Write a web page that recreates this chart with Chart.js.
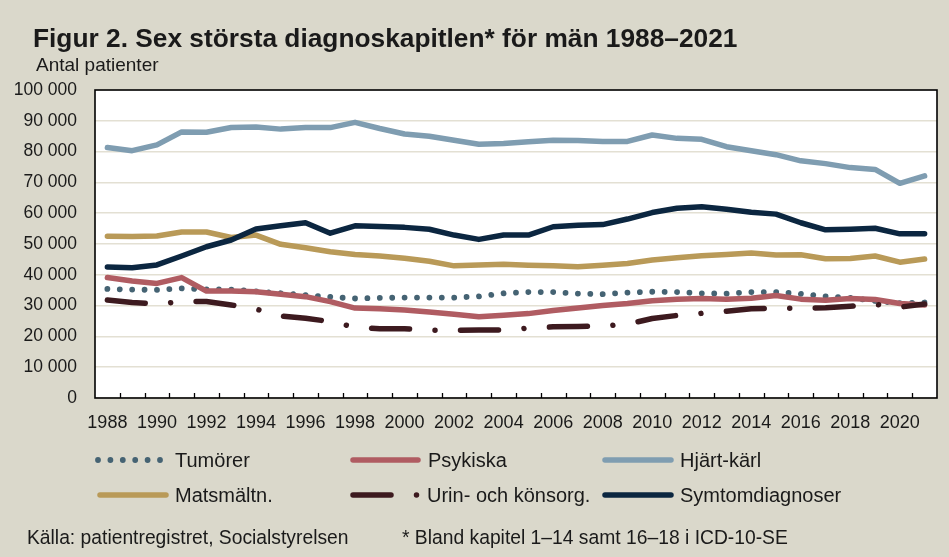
<!DOCTYPE html>
<html>
<head>
<meta charset="utf-8">
<script src="https://cdn.jsdelivr.net/npm/chart.js@4.4.1/dist/chart.umd.min.js"></script>
<style>
  html, body { margin: 0; padding: 0; background: #dad8cb; }
  #wrap { width: 949px; height: 557px; }
</style>
</head>
<body>
<div id="wrap"><canvas id="c" width="949" height="557"></canvas></div>
<script>
// ---------- DATA ----------
const years = ['1988','1989','1990','1991','1992','1993','1994','1995','1996','1997',
  '1998','1999','2000','2001','2002','2003','2004','2005','2006','2007','2008','2009',
  '2010','2011','2012','2013','2014','2015','2016','2017','2018','2019','2020','2021'];

const tumorer = [35400,35200,35100,35600,35300,35200,34600,34000,33400,32800,
  32300,32500,32600,32600,32600,33000,34000,34400,34400,33900,33700,34200,
  34500,34400,34000,33900,34400,34400,33800,33000,32500,31500,30800,31000];

const psykiska = [39100,38000,37200,39100,34700,34700,34500,33700,32900,31300,
  29200,29000,28600,27900,27200,26400,26900,27400,28400,29200,30000,30700,
  31600,32100,32300,32100,32400,33300,32100,31700,32300,32000,30700,30200];

const hjartKarl = [81300,80300,82200,86400,86300,87800,88000,87300,87800,87800,
  89500,87500,85700,85000,83700,82400,82600,83200,83700,83600,83300,83300,
  85400,84300,84000,81600,80300,79000,77000,76100,74800,74200,69700,72100];

const matsmaltn = [52500,52400,52600,53900,53900,52100,52900,49900,48800,47500,
  46600,46100,45400,44400,42900,43200,43400,43100,42900,42600,43100,43700,
  44800,45500,46200,46600,47100,46400,46500,45200,45300,46100,44100,45100];

const urinKonsorg = [31800,31000,30500,31300,31300,30200,28900,26600,25900,24800,
  23000,22500,22500,22000,22000,22100,22100,22700,23100,23200,23400,24000,
  25800,26800,27500,28200,29000,29100,29100,29300,29800,30400,29500,30500];

const symtom = [42500,42300,43200,46100,49100,51300,54900,55900,56900,53500,
  55900,55700,55400,54800,52900,51500,52900,52900,55600,56100,56300,58100,
  60200,61600,62100,61300,60300,59700,56900,54600,54800,55100,53300,53300];

const seriesNames = ['Tumörer','Psykiska','Hjärt-kärl','Matsmältn.','Urin- och könsorg.','Symtomdiagnoser'];
const yTicks = [0,10000,20000,30000,40000,50000,60000,70000,80000,90000,100000];

const titleText = 'Figur 2. Sex största diagnoskapitlen* för män 1988–2021';
const subtitleText = 'Antal patienter';
const sourceText = 'Källa: patientregistret, Socialstyrelsen';
const noteText = '* Bland kapitel 1–14 samt 16–18 i ICD-10-SE';

// ---------- STYLE ----------
const BG = '#dad8cb';
const TXT = '#1a1a1a';
const FONT = "'Liberation Sans', Arial, sans-serif";

const DOT = [0.001, 12.4];
const DASHDOT = [38, 25.5, 0.001, 25.5];

function fmt(v){ return String(v).replace(/\B(?=(\d{3})+(?!\d))/g, ' '); }

const datasets = [
  { label: seriesNames[0], data: tumorer,     borderColor: '#456373', borderWidth: 5.8, borderDash: DOT,     order: 6 },
  { label: seriesNames[1], data: psykiska,    borderColor: '#b05c62', borderWidth: 5.5, borderDash: [],      order: 5 },
  { label: seriesNames[2], data: hjartKarl,   borderColor: '#7f9db1', borderWidth: 5.5, borderDash: [],      order: 4 },
  { label: seriesNames[3], data: matsmaltn,   borderColor: '#b99a58', borderWidth: 5.5, borderDash: [],      order: 3 },
  { label: seriesNames[4], data: urinKonsorg, borderColor: '#3d1a1f', borderWidth: 5.5, borderDash: DASHDOT, order: 2 },
  { label: seriesNames[5], data: symtom,      borderColor: '#0b2640', borderWidth: 5.5, borderDash: [],      order: 1 }
].map(d => Object.assign(d, {
  fill: false, tension: 0, pointRadius: 0, pointHoverRadius: 0,
  borderCapStyle: 'round', borderJoinStyle: 'round'
}));

// legend layout (3 columns x 2 rows)
const legendLayout = [
  { x0: 98,  x1: 161, tx: 175, y: 460 },
  { x0: 353, x1: 418, tx: 428, y: 460 },
  { x0: 605, x1: 671, tx: 680, y: 460 },
  { x0: 100, x1: 166, tx: 175, y: 495 },
  { x0: 353, x1: 418, tx: 427, y: 495 },
  { x0: 605, x1: 671, tx: 680, y: 495 }
];

const decor = {
  id: 'decor',
  beforeDraw(chart) {
    const { ctx, chartArea: a } = chart;
    ctx.save();
    ctx.fillStyle = BG;
    ctx.fillRect(0, 0, chart.width, chart.height);
    ctx.fillStyle = '#ffffff';
    ctx.fillRect(a.left, a.top, a.right - a.left, a.bottom - a.top);
    ctx.restore();
  },
  afterDraw(chart) {
    const { ctx, chartArea: a } = chart;
    const xs = chart.scales.x;
    ctx.save();
    // frame
    ctx.strokeStyle = '#000';
    ctx.lineWidth = 1.6;
    ctx.strokeRect(a.left, a.top, a.right - a.left, a.bottom - a.top);
    // inner tick marks at category boundaries
    ctx.lineWidth = 1.3;
    ctx.beginPath();
    for (let i = 1; i < years.length; i++) {
      const x = Math.round((xs.getPixelForValue(i - 1) + xs.getPixelForValue(i)) / 2) + 0.5;
      ctx.moveTo(x, a.bottom);
      ctx.lineTo(x, a.bottom - 5);
    }
    ctx.stroke();

    // title + subtitle
    ctx.fillStyle = TXT;
    ctx.textAlign = 'left';
    ctx.textBaseline = 'alphabetic';
    ctx.font = "bold 26.3px " + FONT;
    ctx.fillText(titleText, 33, 47);
    ctx.font = "19px " + FONT;
    ctx.fillText(subtitleText, 36, 71);

    // legend
    ctx.textBaseline = 'middle';
    ctx.font = "20px " + FONT;
    chart.data.datasets.forEach((ds, i) => {
      const L = legendLayout[i];
      ctx.save();
      ctx.strokeStyle = ds.borderColor;
      ctx.lineWidth = ds.borderWidth;
      ctx.lineCap = 'round';
      ctx.setLineDash(ds.borderDash || []);
      ctx.beginPath();
      ctx.moveTo(L.x0, L.y);
      ctx.lineTo(L.x1, L.y);
      ctx.stroke();
      ctx.restore();
      ctx.fillStyle = TXT;
      ctx.fillText(ds.label, L.tx, L.y + 1);
    });

    // footer
    ctx.textBaseline = 'alphabetic';
    ctx.font = "19.3px " + FONT;
    ctx.fillText(sourceText, 27, 544);
    ctx.fillText(noteText, 402, 544);
    ctx.restore();
  }
};

new Chart(document.getElementById('c'), {
  type: 'line',
  data: { labels: years, datasets },
  plugins: [decor],
  options: {
    responsive: false,
    animation: false,
    devicePixelRatio: 1,
    layout: { padding: { left: 0, right: 12, top: 90, bottom: 0 } },
    plugins: { legend: { display: false }, tooltip: { enabled: false }, title: { display: false } },
    scales: {
      x: {
        type: 'category',
        offset: true,
        grid: { display: false, drawTicks: false, offset: true },
        border: { display: false },
        ticks: {
          autoSkip: false, maxRotation: 0, minRotation: 0, padding: 14,
          color: TXT, font: { family: FONT, size: 18 },
          callback: (v, i) => (i % 2 === 0 ? years[i] : '')
        },
        afterFit(s) { s.height = 159; }
      },
      y: {
        min: yTicks[0], max: yTicks[yTicks.length - 1],
        afterBuildTicks(s) { s.ticks = yTicks.map(v => ({ value: v })); },
        grid: { color: '#e3e0d3', lineWidth: 1.6, drawTicks: false },
        border: { display: false },
        ticks: { padding: 18, color: TXT, font: { family: FONT, size: 17.5 }, callback: v => fmt(v) },
        afterFit(s) { s.width = 95; }
      }
    }
  }
});
</script>
</body>
</html>
